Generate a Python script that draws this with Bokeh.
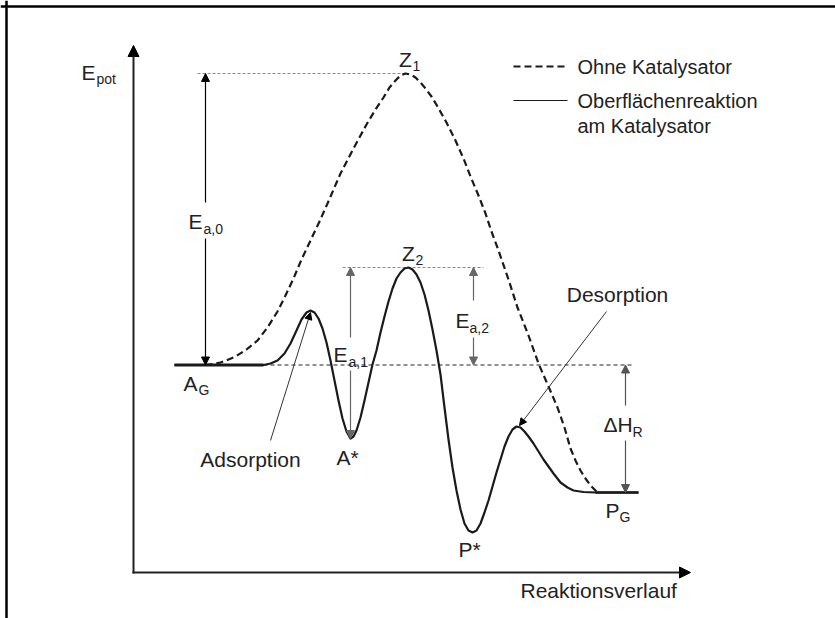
from bokeh.plotting import figure
from bokeh.models import Range1d, Label, Arrow, NormalHead, Span
from bokeh.embed import file_html
from bokeh.resources import INLINE

# ---- data (reaction coordinate vs. potential energy, arbitrary units) ----
uncat_x = [72, 80, 87, 95, 102, 113, 124, 134, 144, 152, 160, 168, 177, 186, 194, 207, 220, 233,
           242, 250, 256, 262, 267, 272, 277, 282, 287, 292, 298, 304, 313, 322, 330, 337,
           345, 352, 358, 365, 375, 384, 395, 405, 415, 424, 431, 437, 442, 447, 452, 457,
           461, 464]
uncat_y = [207.5, 208.5, 210, 213, 216, 223, 232, 245, 261, 277, 294, 313, 332, 351, 369, 399,
           424, 448, 463, 475, 485, 492, 497, 499, 498, 495, 490, 484, 476, 466, 450, 432,
           414, 396, 377, 359, 341, 322, 293, 265, 237, 209, 186, 165, 145, 124, 112, 102,
           94, 87, 83, 80]

cat_x = [41, 130, 137, 144, 151, 157, 163, 168, 173, 177, 181, 185, 189, 193, 197, 201, 205,
         209, 213, 217, 220, 223, 227, 231, 235, 239, 243, 247, 251, 255, 259, 263, 267,
         271, 275, 279, 283, 287, 291, 295, 299, 303, 307, 311, 315, 319, 323, 327, 331,
         335, 339, 343, 347, 351, 355, 359, 363, 367, 371, 375, 379, 383, 387, 391, 395,
         400, 405, 410, 415, 420, 427, 434, 440, 450, 462, 505]
cat_y = [207.5, 207.5, 209, 212, 219, 229, 242, 253, 260, 262, 260, 254, 244, 230, 212, 192,
         172, 154, 141, 134, 136, 142, 155, 172, 190, 208, 222, 240, 256, 271, 284, 294,
         300, 304, 305, 303, 298, 290, 278, 262, 243, 222, 198, 165, 133, 105, 82, 63, 49,
         42, 40, 42, 49, 60, 72, 86, 100, 113, 126, 136, 143, 146, 145, 141, 136,
         129, 121, 113, 106, 99, 90, 85, 82, 80.5, 80, 80]

# energy levels
E_AG = 207.5     # educts, gas phase
E_PG = 80        # products, gas phase
E_Z1 = 499       # transition state without catalyst
E_Z2 = 305       # transition state surface reaction
E_ASTAR = 134    # adsorbed educt
X_Z1 = 272
X_END = 505

series_labels = ["Ohne Katalysator", "Oberflächenreaktion", "am Katalysator"]
x_axis_label = "Reaktionsverlauf"

FONT = "Liberation Sans"
FS = "21px"
FSL = "20px"
FSS = "14px"
INK = "#1a1a1a"

p = figure(width=835, height=618, x_range=Range1d(-133, 702), y_range=Range1d(-46, 572),
           output_backend="svg", toolbar_location=None, min_border=0,
           x_axis_type=None, y_axis_type=None)
p.grid.visible = False
p.outline_line_color = None
p.background_fill_color = "white"

# frame lines (top & left)
p.add_layout(Span(location=566, dimension="width", line_color="black", line_width=2.5))
p.add_layout(Span(location=-127, dimension="height", line_color="black", line_width=2.5))

# axes with arrows
p.add_layout(Arrow(x_start=0, y_start=-1, x_end=0, y_end=527, line_width=2, line_color="#222",
                   end=NormalHead(size=11, fill_color="black", line_color="black")))
p.add_layout(Arrow(x_start=-1, y_start=0, x_end=557, y_end=0, line_width=2, line_color="#222",
                   end=NormalHead(size=11, fill_color="black", line_color="black")))

# reference dashed lines
p.line([64, X_Z1], [E_Z1, E_Z1], line_color="#8a8a8a", line_width=1, line_dash="3 2")
p.line([209, 350], [E_Z2, E_Z2], line_color="#8a8a8a", line_width=1, line_dash="3 2")
p.line([130, 500], [E_AG, E_AG], line_color="#222", line_width=1, line_dash="4 3")

# curves
p.line(uncat_x, uncat_y, line_color=INK, line_width=2.2, line_dash="7 4")
p.line(cat_x, cat_y, line_color=INK, line_width=2.2, line_join="round")
p.line([41, 130], [E_AG, E_AG], line_color=INK, line_width=3)
p.line([462, X_END], [E_PG, E_PG], line_color=INK, line_width=2.4)


def darrow(x, y0, y1, color="black"):
    p.add_layout(Arrow(x_start=x, y_start=y0, x_end=x, y_end=y1, line_color=color, line_width=1.2,
                       end=NormalHead(size=8, fill_color=color, line_color=color)))


# E_a,0
darrow(72, 370, E_Z1)
darrow(72, 334, E_AG)
# E_a,1
darrow(217, 235, E_Z2, "#666")
darrow(217, 202, E_ASTAR, "#666")
# E_a,2
darrow(340, 272, E_Z2, "#666")
darrow(340, 235, E_AG, "#666")
# Delta H_R
darrow(492, 167, E_AG, "#555")
darrow(492, 132, E_PG, "#555")

# pointers
p.add_layout(Arrow(x_start=137, y_start=132, x_end=177, y_end=260, line_color="#333", line_width=1,
                   end=NormalHead(size=7, fill_color="black", line_color="black")))
p.add_layout(Arrow(x_start=473, y_start=261, x_end=386, y_end=147, line_color="#333", line_width=1,
                   end=NormalHead(size=7, fill_color="black", line_color="black")))


def lab(x, y, text, size=FS, align="left", color="#222"):
    p.add_layout(Label(x=x, y=y, text=text, text_font=FONT, text_font_size=size,
                       text_align=align, text_baseline="middle", text_color=color))


lab(-38, 500, "E", align="right")
lab(-37, 494, "pot", size=FSS)
lab(272, 513, "Z", align="center")
lab(279, 507, "1", size=FSS)
lab(275, 319, "Z", align="center")
lab(282, 313, "2", size=FSS)
lab(57, 189, "A", align="center")
lab(65, 183, "G", size=FSS)
lab(214, 115, "A*", align="center")
lab(336, 23, "P*", align="center")
lab(472, 62, "P")
lab(486, 56, "G", size=FSS)
lab(117, 113, "Adsorption", align="center")
lab(484, 278, "Desorption", align="center")
lab(69, 351, "E", align="right")
lab(70, 344, "a,0", size=FSS)
lab(200, 218, "E")
lab(215, 211, "a,1", size=FSS)
lab(322, 252, "E")
lab(336, 245, "a,2", size=FSS)
lab(470, 148, "ΔH")
lab(499, 141, "R", size=FSS)

# legend
p.line([380, 434], [506, 506], line_color=INK, line_width=2, line_dash="7 4")
p.line([380, 434], [472, 472], line_color=INK, line_width=1)
lab(444, 506, series_labels[0], size=FSL)
lab(444, 472, series_labels[1], size=FSL)
lab(444, 447, series_labels[2], size=FSL)

lab(387, -18, x_axis_label)

open("out.html", "w").write(file_html(p, INLINE))
